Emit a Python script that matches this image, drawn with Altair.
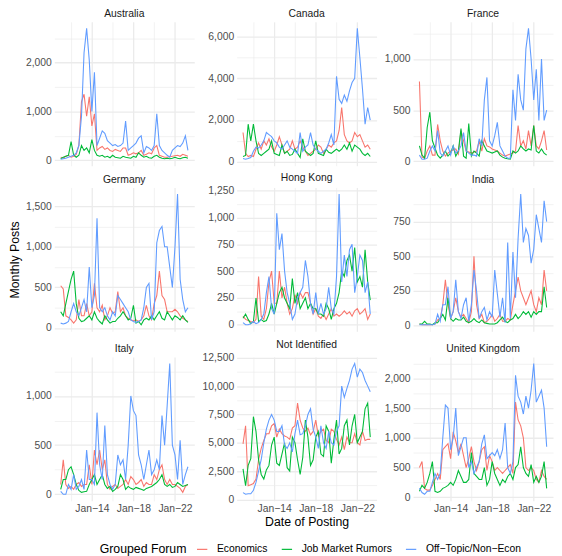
import altair as alt
import pandas as pd

# Quarterly sampling points (Jan 2011 .. Apr 2023)
dates = [d.strftime("%Y-%m-%d") for d in pd.date_range("2011-01-01", periods=50, freq="3MS")]

series = ["Economics", "Job Market Rumors", "Off\u2212Topic/Non\u2212Econ"]
colors = ["#F8766D", "#00BA38", "#619CFF"]

aus_econ = [60,40,80,100,60,80,120,300,1200,1350, 900,1300,700,950,200,250,280,220,250,200,
            180,220,200,180,250,250,100,120,150,130, 150,200,100,120,150,130,250,300,100,80,
            60,60,70,80,90,100,80,120,100,80]
aus_jmr = [30,60,80,100,380,100,60,100,300,200, 250,150,420,200,100,80,100,60,80,50,
           100,60,50,40,80,60,50,40,80,60, 150,100,60,80,50,40,80,100,60,40,
           30,40,30,40,60,40,30,50,60,40]
aus_off = [20,30,40,60,80,100,150,300,900,2200, 2700,2050,1000,1800,300,450,600,550,400,350,
           300,320,280,300,350,800,200,250,300,350, 450,500,150,280,250,200,300,950,300,200,
           150,100,60,200,250,300,280,350,500,200]

can_econ = [1400,400,250,300,250,600,900,600,1000,800, 1100,700,500,800,1200,800,400,500,600,1000,
            600,700,1000,700,500,300,400,500,600,800, 700,400,600,800,700,900,1000,1500,2600,1300,
            1000,900,1000,1400,1200,1300,1000,700,800,600]
can_jmr = [250,300,1800,1000,1800,1000,400,300,400,500, 600,1000,400,350,300,800,400,500,300,350,
           600,400,200,1100,500,400,300,400,1000,400, 350,300,600,450,400,500,600,500,600,800,
           600,900,500,800,700,600,400,300,400,250]
can_off = [150,120,150,200,500,700,650,800,1000,1400, 1300,1200,1000,900,700,600,800,1000,700,600,
           500,400,1400,500,700,800,1400,800,600,500, 400,500,600,900,1300,800,4100,3000,2800,3200,
           2900,3400,3800,4000,6400,5000,3500,1800,2600,2000]

fra_econ = [780,40,30,100,150,60,60,360,200,100, 50,80,100,110,120,70,300,200,100,90,
            80,90,100,200,100,220,150,140,120,110, 100,80,60,50,60,70,80,100,350,150,
            200,120,300,150,350,150,120,200,300,110]
fra_jmr = [150,60,30,330,480,200,130,60,30,60, 100,50,80,150,50,100,320,50,30,370,
           50,100,80,50,200,150,100,90,80,90, 100,60,40,30,25,20,100,80,100,150,
           120,100,120,110,350,100,80,120,80,60]
fra_off = [60,20,20,30,100,150,100,300,80,50, 100,150,60,150,80,100,150,280,100,80,
           60,60,50,220,150,600,820,200,150,250, 380,150,100,50,30,30,700,400,850,600,
           500,1100,1300,1000,600,900,400,1000,400,500]

ger_econ = [520,480,150,130,100,60,100,350,150,150, 300,150,200,550,250,200,280,100,150,250,
            180,200,450,200,250,150,120,100,90,100, 80,100,150,280,150,100,300,400,700,400,
            350,200,200,200,230,200,150,120,100,80]
ger_jmr = [200,150,300,450,600,700,300,120,80,90, 120,150,100,200,120,80,50,150,100,60,
           80,80,120,150,200,150,100,120,280,60, 80,40,100,120,100,150,100,150,200,120,
           100,200,150,100,150,130,100,150,100,70]
ger_off = [60,50,60,80,200,300,200,150,250,350, 200,750,250,400,1350,250,200,250,150,100,
           200,150,400,350,300,250,200,100,80,70, 80,100,250,500,550,100,200,1050,1200,1250,
           1000,1000,750,500,1000,1650,600,350,200,250]

hk_econ = [80,50,40,30,20,50,450,80,50,150, 400,500,200,200,500,250,350,200,100,150,
           280,200,300,250,300,300,200,100,150,80, 60,100,50,100,150,80,100,80,100,130,
           100,120,80,130,150,100,120,150,50,100]
hk_jmr = [60,100,50,10,30,250,30,50,30,40, 100,200,100,200,300,350,250,200,150,430,
          200,300,150,200,250,150,200,150,150,100, 100,80,200,150,50,150,200,300,500,450,
          600,650,500,720,400,450,350,700,400,230]
hk_off = [20,0,0,10,30,10,20,50,100,300, 450,150,100,1040,700,850,500,300,200,50,
          100,250,300,350,600,450,200,100,300,100, 200,100,150,350,150,100,450,1220,400,650,
          450,700,750,300,450,650,600,300,400,100]

ind_econ = [10,5,5,5,5,5,10,40,50,150, 330,150,50,100,200,100,60,80,50,20,
            100,500,150,50,80,20,30,50,80,30, 50,80,30,30,50,40,150,250,350,250,
            200,150,200,250,150,100,200,150,400,250]
ind_jmr = [10,10,30,10,10,5,20,20,50,80, 40,200,50,30,50,40,40,60,30,20,
           30,50,30,20,40,20,15,10,10,10, 20,40,60,30,20,40,50,80,50,70,
           100,80,100,60,100,80,100,100,280,130]
ind_off = [5,5,5,5,5,5,10,80,30,150, 150,280,50,100,330,100,50,150,200,30,
           150,400,250,50,100,130,40,100,60,400, 230,60,200,20,600,50,530,200,630,950,
           600,700,650,450,550,800,700,600,900,750]

ita_econ = [100,350,100,60,80,50,100,120,80,100, 100,300,100,450,300,450,250,350,100,50,
            80,100,60,80,100,150,100,180,150,100, 120,150,80,120,100,100,200,150,250,300,
            150,100,150,100,100,80,60,20,80,100]
ita_jmr = [50,150,150,250,280,200,100,40,20,25, 30,100,150,200,100,150,200,100,60,80,
           30,50,80,200,150,50,80,60,50,70, 60,50,40,60,70,80,100,120,150,200,
           100,80,100,70,80,120,100,80,90,100]
ita_off = [30,0,0,100,50,200,50,80,150,50, 450,150,150,100,830,300,150,700,200,100,
           50,100,400,300,350,150,500,1000,850,800, 400,300,150,300,450,200,250,350,250,800,
           500,900,1330,500,400,150,550,100,200,280]

ni_econ = [4900,6500,1200,1300,1400,1800,3500,4500,5200,5800, 5800,6500,6700,5500,6200,5800,5600,5500,5300,6300,
           6500,8500,7000,6300,6000,6300,5700,6000,7000,5600, 6000,6200,5200,5000,6200,6000,5300,4800,5500,4400,
           5500,5000,5000,5800,5000,4800,6000,5200,5300,5300]
ni_jmr = [2700,1200,3000,3600,7300,6000,3500,2200,1800,2600, 3000,4800,5500,3200,3000,4000,5000,2800,2500,5500,
          5000,3500,2200,3700,7000,5500,3000,3500,5500,6000, 4000,3800,6500,6000,3200,5300,7000,4000,4500,6500,
          7000,4800,6500,7500,5000,5500,6000,8000,8500,5500]
ni_off = [600,450,500,500,800,1500,2500,3500,5000,6200, 7000,7500,7000,6000,6000,6500,4800,4500,5000,4200,
          5800,7000,5700,5800,6500,7500,8000,6200,5500,4500, 6500,5000,4500,6000,5000,4800,6000,6500,10000,9000,
          9800,10500,11500,12000,10800,11500,11200,10500,10000,9500]

uk_econ = [500,600,150,120,120,200,300,400,300,800, 850,900,650,1100,950,750,900,700,500,650,
           850,600,450,600,800,850,450,700,600,450, 500,450,400,450,500,550,400,1600,1300,1200,
           1000,500,450,500,450,300,250,450,350,300]
uk_jmr = [100,200,150,250,400,600,100,80,100,150, 170,200,250,200,300,450,350,250,250,300,
          750,400,350,300,300,500,200,300,600,400, 300,200,300,250,350,400,300,500,550,850,
          500,400,350,550,250,350,250,350,600,150]
uk_off = [150,80,50,100,100,250,400,300,400,1000, 1550,1500,800,1000,1500,700,850,1000,1000,500,
          600,400,500,600,900,1050,650,700,750,700, 800,650,800,1250,500,400,600,2050,1700,1600,
          1400,1700,1500,1800,2250,1600,1700,1800,1500,850]

panels = [
    ("Australia", aus_econ, aus_jmr, aus_off, 1000),
    ("Canada", can_econ, can_jmr, can_off, 2000),
    ("France", fra_econ, fra_jmr, fra_off, 500),
    ("Germany", ger_econ, ger_jmr, ger_off, 500),
    ("Hong Kong", hk_econ, hk_jmr, hk_off, 250),
    ("India", ind_econ, ind_jmr, ind_off, 250),
    ("Italy", ita_econ, ita_jmr, ita_off, 500),
    ("Not Identified", ni_econ, ni_jmr, ni_off, 2500),
    ("United Kingdom", uk_econ, uk_jmr, uk_off, 500),
]

FONT = "Liberation Sans"
W, H = 142, 146
EXT = [30, 36, 30]
GRID = "#EBEBEB"

x_scale = alt.Scale(type="utc", domain=[alt.DateTime(year=2010, month=5, date=22, utc=True),
                                        alt.DateTime(year=2023, month=11, date=10, utc=True)])
x_vals = [alt.DateTime(year=y, month=1, date=1, utc=True) for y in range(2012, 2023, 2)]
x_major_test = "utcyear(datum.value) % 4 == 2"

legend = alt.Legend(orient="none", legendX=46, legendY=529, direction="horizontal",
                    titleOrient="left", symbolType="stroke", symbolSize=110,
                    symbolStrokeWidth=1.2, labelFontSize=10.5, titleFontSize=12.5,
                    titleFontWeight="normal", titleColor="#000000", labelColor="#000000",
                    columnPadding=11, labelOffset=9, titlePadding=9, title="Grouped Forum")

charts = []
for idx, (name, econ, jmr, off, step) in enumerate(panels):
    row, col = divmod(idx, 3)
    df = pd.DataFrame({
        "date": dates * 3,
        "forum": [s for s in series for _ in dates],
        "posts": econ + jmr + off,
    })
    allv = econ + jmr + off
    lo, hi = min(allv), max(allv)
    pad = 0.05 * (hi - lo)
    dom = [lo - pad, hi + pad]
    ticks = []
    v = 0
    while v <= dom[1]:
        ticks.append(v)
        v += step // 2

    y_kwargs = dict(values=ticks,
                    labelExpr=f"datum.value % {step} == 0 ? format(datum.value, ',') : ''",
                    ticks=False, domain=False, labelFontSize=10.5, labelColor="#4D4D4D",
                    labelPadding=3, labelOverlap=False, labelFlush=False,
                    minExtent=EXT[col], maxExtent=EXT[col],
                    gridColor=GRID,
                    gridWidth={"condition": {"test": f"datum.value % {step} == 0", "value": 1.3}, "value": 0.65})
    if col == 0:
        y_kwargs.update(title="Monthly Posts", titleFontSize=12.5, titleFontWeight="normal",
                        titleColor="#000000", titlePadding=3,
                        titleOpacity=1 if row == 1 else 0)
        y_axis = alt.Axis(**y_kwargs)
        y_enc = alt.Y("posts:Q", scale=alt.Scale(domain=dom, nice=False, zero=False), axis=y_axis)
    else:
        y_axis = alt.Axis(**y_kwargs)
        y_enc = alt.Y("posts:Q", scale=alt.Scale(domain=dom, nice=False, zero=False), axis=y_axis, title=None)

    x_kwargs = dict(values=x_vals, ticks=False, domain=False, gridColor=GRID,
                    gridWidth={"condition": {"test": x_major_test, "value": 1.3}, "value": 0.65})
    if row == 2:
        x_kwargs.update(labels=True,
                        labelExpr=f"{x_major_test} ? 'Jan\u2212' + utcFormat(datum.value, '%y') : ''",
                        labelFontSize=10.5, labelColor="#4D4D4D", labelPadding=3,
                        labelOverlap=False, labelFlush=False)
        if col == 1:
            x_kwargs.update(title="Date of Posting", titleFontSize=12.5, titleFontWeight="normal",
                            titleColor="#000000", titlePadding=2)
            x_enc = alt.X("date:T", scale=x_scale, axis=alt.Axis(**x_kwargs))
        else:
            x_enc = alt.X("date:T", scale=x_scale, axis=alt.Axis(**x_kwargs), title=None)
    else:
        x_kwargs.update(labels=False, minExtent=0, maxExtent=0)
        x_enc = alt.X("date:T", scale=x_scale, axis=alt.Axis(**x_kwargs), title=None)

    c = alt.Chart(df).mark_line(strokeWidth=1.1, clip=True).encode(
        x=x_enc,
        y=y_enc,
        color=alt.Color("forum:N", scale=alt.Scale(domain=series, range=colors), legend=legend),
    ).properties(
        width=W, height=H,
        title=alt.TitleParams(name, fontSize=10.5, color="#1A1A1A", offset=2,
                              fontWeight="normal", anchor="middle"),
    )
    charts.append(c)

chart = alt.concat(*charts, columns=3, spacing={"row": 5, "column": 5}).properties(
    padding={"left": 0, "top": -3, "right": 0, "bottom": 0}
).configure(font=FONT).configure_view(stroke="transparent")

chart.save("out.html", embed_options={"renderer": "svg", "actions": False})
